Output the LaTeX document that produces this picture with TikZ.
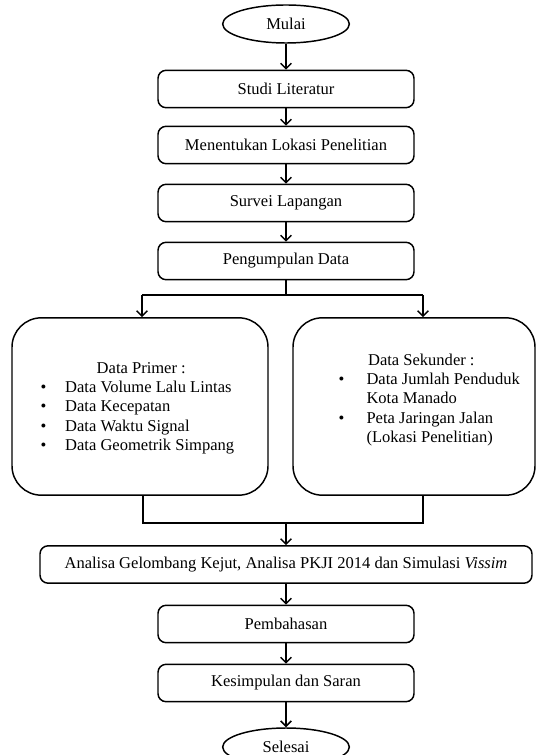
\documentclass[tikz,border=0pt]{standalone}
\usepackage{fontspec}
\setmainfont{Liberation Serif}
\usetikzlibrary{shapes.geometric,arrows.meta}

\begin{document}
\begin{tikzpicture}[
  x=0.75pt, y=-0.75pt,
  >={Straight Barb[length=4pt,width=8pt]},
  line width=1.1pt,
  every node/.style={align=center, font=\fontsize{12.4}{14.4}\selectfont},
  terminal/.style={draw, ellipse, minimum width=95pt, minimum height=28.5pt, inner sep=0pt},
  process/.style={draw, rounded corners=6pt, minimum width=192pt, minimum height=28pt, inner sep=2pt},
  datagroup/.style={draw, rounded corners=22pt, minimum height=133pt, inner sep=0pt},
  datalist/.style={anchor=west, align=left, inner sep=0pt}
]
\useasboundingbox (0,0) rectangle (538,755);

% --- Start ---
\node[terminal] (mulai) at (286, 24) {Mulai};

% --- Preparation steps ---
\node[process] (studi)  at (286,  89) {Studi Literatur};
\node[process] (lokasi) at (286, 145) {Menentukan Lokasi Penelitian};
\node[process] (survei) at (286, 203) {Survei Lapangan};
\node[process] (kumpul) at (286, 261) {Pengumpulan Data};

\draw[->] (mulai.south)  -- (studi.north);
\draw[->] (studi.south)  -- (lokasi.north);
\draw[->] (lokasi.south) -- (survei.north);
\draw[->] (survei.south) -- (kumpul.north);

% --- Data: primary on the left, secondary on the right ---
\node[datagroup, minimum width=192pt] (primer)   at (140, 406.5) {};
\node[datagroup, minimum width=181.5pt] (sekunder) at (414, 406.5) {};

\node[datalist] (primertxt) at (40, 408) {%
  \begin{tabular}{@{}l@{\hspace{14pt}}l@{}}
  \multicolumn{2}{@{}l}{\hspace{42pt}Data Primer :}\\
  \textbullet & Data Volume Lalu Lintas\\
  \textbullet & Data Kecepatan\\
  \textbullet & Data Waktu Signal\\
  \textbullet & Data Geometrik Simpang
  \end{tabular}};
\node[datalist] (sekundertxt) at (338, 400) {%
  \begin{tabular}{@{}l@{\hspace{16.5pt}}l@{}}
  \multicolumn{2}{@{}l}{\hspace{22pt}Data Sekunder :}\\
  \textbullet & Data Jumlah Penduduk\\
   & Kota Manado\\
  \textbullet & Peta Jaringan Jalan\\
   & (Lokasi Penelitian)
  \end{tabular}};

\coordinate (splitL) at (142, 295);
\coordinate (splitR) at (423, 295);
\draw (kumpul.south) -- (kumpul.south |- splitL);
\draw (splitL) -- (splitR);
\draw[->] (splitL) -- (splitL |- primer.north);
\draw[->] (splitR) -- (splitR |- sekunder.north);

% --- Analysis and closing ---
\node[process, minimum width=369pt] (analisa) at (286, 564.5)
  {Analisa Gelombang Kejut, Analisa PKJI 2014 dan Simulasi \textit{Vissim}};
\node[process] (bahas)  at (286, 624) {Pembahasan};
\node[process] (simpul) at (286, 683) {Kesimpulan dan Saran};
\node[terminal] (selesai) at (286, 747) {Selesai};

\coordinate (joinL) at (143, 523);
\coordinate (joinR) at (423, 523);
\draw (joinL |- primer.south) -- (joinL) -- (joinR) -- (joinR |- sekunder.south);
\draw[->] (analisa.north |- joinL) -- (analisa.north);

\draw[->] (analisa.south) -- (bahas.north);
\draw[->] (bahas.south)   -- (simpul.north);
\draw[->] (simpul.south)  -- (selesai.north);

\end{tikzpicture}
\end{document}
